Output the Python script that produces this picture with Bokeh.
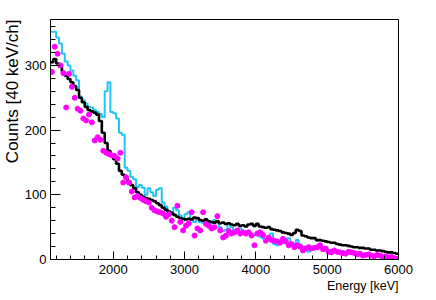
from bokeh.plotting import figure
from bokeh.models import Range1d, FixedTicker, Title
from bokeh.embed import file_html
from bokeh.resources import INLINE

# ---- data ----
bin_start = 1120
bin_width = 40
n_bins = 122

black_counts = [
    305, 310, 303, 298, 290, 284, 279, 274, 268, 262,
    250, 243, 236, 231, 229, 227, 224, 214, 196, 180,
    168, 160, 155, 148, 137, 131, 126, 121, 115, 110,
    104, 100, 97, 95, 94, 92, 90, 87, 84, 80,
    77, 74, 72, 69, 66, 64, 63, 62, 63, 62,
    65, 64, 61, 60, 62, 59, 58, 57, 59, 56,
    57, 55, 56, 54, 53, 55, 52, 53, 51, 54,
    55, 52, 55, 51, 50, 49, 50, 47, 46, 45,
    44, 42, 41, 40, 38, 41, 46, 44, 37, 36,
    34, 33, 33, 30, 30, 29, 28, 27, 26, 26,
    24, 23, 22, 22, 21, 20, 19, 19, 18, 18,
    17, 17, 15, 15, 14, 14, 13, 12, 11, 11,
    10, 9,
]

cyan_counts = [
    352, 352, 343, 334, 318, 306, 300, 292, 284, 277,
    252, 246, 241, 236, 235, 231, 228, 225, 220, 260,
    274, 228, 226, 218, 196, 193, 142, 137, 128, 124,
    112, 115, 111, 100, 110, 104, 98, 108, 110, 88,
    82, 75, 71, 80, 76, 68, 60, 70, 73, 62,
    58, 64, 58, 57, 60, 59, 56, 61, 60, 50,
    44, 46, 55, 50, 43, 45, 48, 42, 44, 40,
    36, 38, 40, 35, 33, 30, 32, 40, 24, 22,
    25, 26, 32, 33, 26, 24, 30, 23, 20, 15,
    12, 16, 20, 18, 22, 17, 14, 13, 15, 14,
    11, 12, 10, 12, 11, 9, 10, 8, 9, 8,
    7, 8, 6, 7, 6, 5, 6, 5, 4, 5,
    4, 4,
]

magenta_counts = [
    290, 329, 318, 300, 288, 235, 287, 267, 250, 233,
    230, 218, 215, 224, 212, 184, 189, 185, 168, 165,
    163, 161, 160, 156, 165, 119, 127, 119, 105, 96,
    98, 95, 92, 90, 88, 80, 76, 74, 73, 71,
    66, 70, 60, 50, 83, 58, 45, 52, 56, 73,
    37, 48, 45, 73, 55, 52, 48, 50, 67, 45,
    34, 37, 44, 40, 42, 45, 40, 42, 40, 42,
    37, 22, 40, 42, 38, 29, 34, 30, 29, 28,
    26, 32, 28, 22, 24, 19, 22, 20, 14, 17,
    19, 17, 18, 19, 22, 16, 17, 12, 11, 14,
    12, 11, 10, 9, 12, 11, 10, 8, 9, 6,
    7, 8, 6, 5, 7, 6, 4, 5, 3, 4,
    2, 1,
]

x_ticks = [2000, 3000, 4000, 5000, 6000]
y_ticks = [0, 100, 200, 300]

edges = [bin_start + bin_width * i for i in range(n_bins + 1)]
centers = [bin_start + bin_width * (i + 0.5) for i in range(n_bins)]

FONT = "Liberation Sans"

p = figure(width=436, height=300, output_backend="svg", toolbar_location=None,
           x_range=Range1d(1120, 6000), y_range=Range1d(0, 371),
           min_border_left=49, min_border_right=38, min_border_top=19,
           min_border_bottom=41)
p.grid.visible = False
p.background_fill_color = "white"
p.border_fill_color = "white"
p.outline_line_color = "black"
p.outline_line_width = 1

# histograms
p.step(x=edges, y=cyan_counts + [cyan_counts[-1]], mode="after",
       line_color="#22C4F5", line_width=2)
p.step(x=edges, y=black_counts + [black_counts[-1]], mode="after",
       line_color="black", line_width=2.6)
p.scatter(x=centers, y=magenta_counts, size=5, color="#FF00FF")

# axes
xa = p.xaxis[0]
xa.ticker = FixedTicker(ticks=x_ticks,
                        minor_ticks=[1200 + 200 * i for i in range(25)])
ya = p.yaxis[0]
ya.ticker = FixedTicker(ticks=y_ticks,
                        minor_ticks=[20 * i for i in range(19)])
for ax, maj, mnr in ((xa, 8, 4), (ya, 10, 5)):
    ax.major_tick_in = maj
    ax.major_tick_out = 0
    ax.minor_tick_in = mnr
    ax.minor_tick_out = 0
    ax.major_tick_line_color = "black"
    ax.minor_tick_line_color = "black"
    ax.axis_line_color = "black"
    ax.major_label_text_font = FONT
    ax.major_label_text_font_size = "13px"
    ax.major_label_text_color = "black"
xa.major_label_standoff = 5
ya.major_label_standoff = 4

p.add_layout(Title(text="Energy [keV]", align="right", standoff=0,
                   text_font=FONT, text_font_size="12.5px",
                   text_font_style="normal", text_color="black"), "below")
p.add_layout(Title(text="Counts [40 keV/ch]", align="right", standoff=0,
                   text_font=FONT, text_font_size="17px",
                   text_font_style="normal", text_color="black"), "left")

open("out.html", "w").write(file_html(p, INLINE))
